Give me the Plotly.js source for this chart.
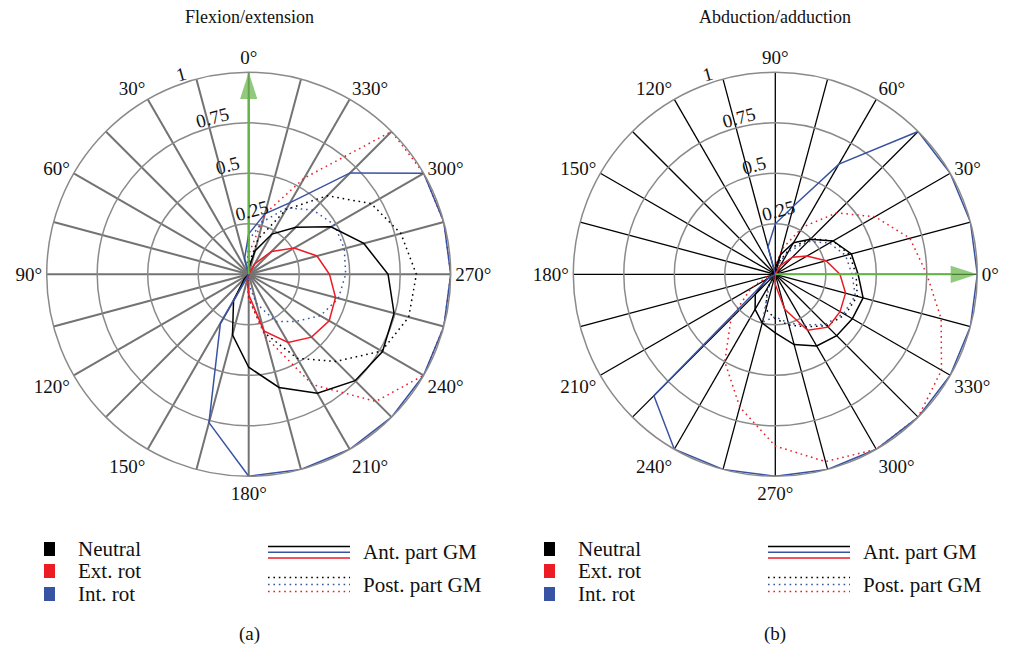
<!DOCTYPE html>
<html><head><meta charset="utf-8">
<script src="https://cdn.plot.ly/plotly-3.0.1.min.js"></script>
<style>html,body{margin:0;padding:0;background:#fff}#chart{width:1009px;height:650px}</style>
</head><body><div id="chart"></div>
<script>
// ---- data ----
const theta = [0,15,30,45,60,75,90,105,120,135,150,165,180,195,210,225,240,255,270,285,300,315,330,345];
const angleTickText = ['0°','','30°','','60°','','90°','','120°','','150°','','180°','','210°','','240°','','270°','','300°','','330°',''];
const radialTickVals = [0.25,0.5,0.75,1];
const radialTickText = ['0.25','0.5','0.75','1'];
const subplotTitles = ['Flexion/extension','Abduction/adduction'];
const panelLabels = ['(a)','(b)'];
const groupNames = ['Neutral','Ext. rot','Int. rot'];
const partNames = ['Ant. part GM','Post. part GM'];

// (a) Flexion/extension
const flexNeutralAnt  = [0.03,0,0,0,0,0,0,0,0,0.03,0.15,0.31,0.46,0.58,0.68,0.745,0.765,0.745,0.69,0.59,0.47,0.33,0.23,0.12];
const flexNeutralPost = [0.05,0,0,0,0,0,0,0,0,0,0,0.02,0.12,0.30,0.48,0.61,0.76,0.82,0.83,0.78,0.70,0.55,0.37,0.18];
const flexExtAnt      = [0,0,0,0,0,0,0,0,0,0,0,0.03,0.10,0.29,0.39,0.44,0.46,0.445,0.40,0.35,0.26,0.16,0.06,0];
const flexExtPost     = [0.10,0,0,0,0,0,0,0,0,0,0,0.02,0.12,0.32,0.63,0.89,1,1,1,1,1,1,0.55,0.31];
const flexIntAnt      = [0.20,0.08,0,0,0,0,0,0,0,0,0.28,0.76,1,1,1,1,1,1,1,1,1,0.71,0.41,0.31];
const flexIntPost     = [0.17,0.03,0,0,0,0,0,0,0,0,0,0,0.05,0.15,0.27,0.33,0.41,0.46,0.48,0.49,0.49,0.45,0.38,0.27];

// (b) Abduction/adduction
const abdNeutralAnt  = [0.41,0.39,0.33,0.245,0.18,0.10,0.03,0,0,0,0,0,0,0,0.05,0.14,0.20,0.25,0.29,0.36,0.41,0.43,0.44,0.45];
const abdNeutralPost = [0.40,0.38,0.33,0.25,0.15,0.06,0,0,0,0,0,0,0,0,0,0,0.08,0.18,0.22,0.26,0.30,0.36,0.40,0.42];
const abdExtAnt      = [0.32,0.26,0.18,0.12,0.05,0,0,0,0,0,0,0,0,0,0,0,0,0,0.05,0.18,0.32,0.37,0.37,0.36];
const abdExtPost     = [0.75,0.69,0.57,0.43,0.27,0.13,0.04,0,0,0,0,0,0,0.04,0.14,0.31,0.50,0.68,0.85,0.96,1,1,0.95,0.85];
const abdIntAnt      = [1,1,1,1,0.63,0.35,0.25,0.14,0,0,0,0,0,0,0.04,0.85,1,1,1,1,1,1,1,1];
const abdIntPost     = [0.38,0.36,0.31,0.23,0.13,0.05,0.03,0,0,0,0,0,0,0,0,0,0.06,0.245,0.21,0.25,0.29,0.35,0.39,0.41];

// reference direction arrow (0°)
const arrowR = [0, 1];
const arrowTheta = [0, 0];

// ---- styles ----
const BLACK = '#000000', RED = '#ec1c24', BLUE = '#3953a4', GREEN = '#63b446';
const SERIF = 'Liberation Serif, Times New Roman, serif';
const DOTS = '1.6px,3.8px';
const W = 1009, H = 650;
const px = x => x / W, py = y => 1 - y / H;

function series(r, color, dash, sub) {
  return {type:'scatterpolar', subplot:sub, r:r.concat([r[0]]), theta:theta.concat([theta[0]]),
    mode:'lines', line:{color:color, width:1.5, dash:dash}, cliponaxis:false,
    hoverinfo:'skip', showlegend:false};
}
function arrow(sub) {
  return {type:'scatterpolar', subplot:sub, r:arrowR, theta:arrowTheta, mode:'lines+markers',
    line:{color:GREEN, width:2}, marker:{symbol:['circle','arrow'], size:[1,28], color:GREEN,
    angleref:'previous', line:{width:0}}, cliponaxis:false, hoverinfo:'skip', showlegend:false};
}

const data = [
  series(flexNeutralPost, BLACK, DOTS, 'polar'),
  series(flexExtPost, RED, DOTS, 'polar'),
  series(flexIntPost, BLUE, DOTS, 'polar'),
  series(flexNeutralAnt, BLACK, 'solid', 'polar'),
  series(flexExtAnt, RED, 'solid', 'polar'),
  series(flexIntAnt, BLUE, 'solid', 'polar'),
  arrow('polar'),
  series(abdIntPost, BLUE, DOTS, 'polar2'),
  series(abdNeutralPost, BLACK, DOTS, 'polar2'),
  series(abdExtPost, RED, DOTS, 'polar2'),
  series(abdNeutralAnt, BLACK, 'solid', 'polar2'),
  series(abdExtAnt, RED, 'solid', 'polar2'),
  series(abdIntAnt, BLUE, 'solid', 'polar2'),
  arrow('polar2')
];

// an empty second line lifts each radial label just outside its circle
const radialLabels = radialTickText.map(t => t + '<br>\u00a0');

function polarLayout(cx, rotation, spokeColor, spokeWidth) {
  const cy = 274.3, R = 202;
  return {
    domain:{x:[px(cx - R), px(cx + R)], y:[py(cy + R), py(cy - R)]},
    bgcolor:'rgba(0,0,0,0)',
    angularaxis:{rotation:rotation, direction:'counterclockwise', tickmode:'array',
      tickvals:theta, ticktext:angleTickText, showgrid:true, gridcolor:spokeColor, gridwidth:spokeWidth,
      showline:true, linecolor:'#8a8a8a', linewidth:1.5, ticks:'',
      tickfont:{family:SERIF, size:19, color:'#111'}},
    radialaxis:{range:[0,1], tickmode:'array', tickvals:radialTickVals, ticktext:radialLabels,
      angle:113, tickangle:98, showline:false, ticks:'', gridcolor:'#8a8a8a', gridwidth:1.5,
      tickfont:{family:SERIF, size:19, color:'#111'}}
  };
}

const shapes = [], annotations = [];
const panelCenters = [249, 775];
panelCenters.forEach((c, i) => {
  annotations.push({xref:'paper', yref:'paper', x:px(c), y:py(17), text:subplotTitles[i], showarrow:false,
    xanchor:'center', yanchor:'middle', font:{family:SERIF, size:18, color:'#111'}});
  annotations.push({xref:'paper', yref:'paper', x:px(c), y:py(634), text:panelLabels[i], showarrow:false,
    xanchor:'center', yanchor:'middle', font:{family:SERIF, size:19, color:'#111'}});
  const off = i * 500;
  const sqColors = [BLACK, RED, BLUE];
  const sqY = [549, 571, 594];
  groupNames.forEach((name, k) => {
    shapes.push({type:'rect', xref:'paper', yref:'paper', x0:px(44 + off), x1:px(55 + off),
      y0:py(sqY[k] + 7), y1:py(sqY[k] - 7), fillcolor:sqColors[k], line:{width:0}});
    annotations.push({xref:'paper', yref:'paper', x:px(76 + off), y:py(sqY[k]), text:name, showarrow:false,
      xanchor:'left', yanchor:'middle', font:{family:SERIF, size:21, color:'#111'}});
  });
  const lineColors = [BLACK, BLUE, RED];
  [[546.5, 552.3, 558], [577.5, 584.5, 591.5]].forEach((ys, g) => {
    ys.forEach((y, k) => {
      shapes.push({type:'line', xref:'paper', yref:'paper', x0:px(268 + off), x1:px(350 + off),
        y0:py(y), y1:py(y), line:{color:lineColors[k], width:1.4, dash: g === 0 ? 'solid' : DOTS}});
    });
    annotations.push({xref:'paper', yref:'paper', x:px(361 + off), y:py(ys[1]), text:partNames[g], showarrow:false,
      xanchor:'left', yanchor:'middle', font:{family:SERIF, size:21, color:'#111'}});
  });
});

const layout = {
  width:W, height:H, margin:{l:0, r:0, t:0, b:0}, paper_bgcolor:'#ffffff', showlegend:false,
  polar: polarLayout(248.7, 90, '#737373', 2),
  polar2: polarLayout(775.3, 0, '#000000', 1.3),
  shapes: shapes, annotations: annotations,
  font:{family:SERIF}
};

Plotly.newPlot('chart', data, layout, {displayModeBar:false, staticPlot:true});
</script>
</body></html>
